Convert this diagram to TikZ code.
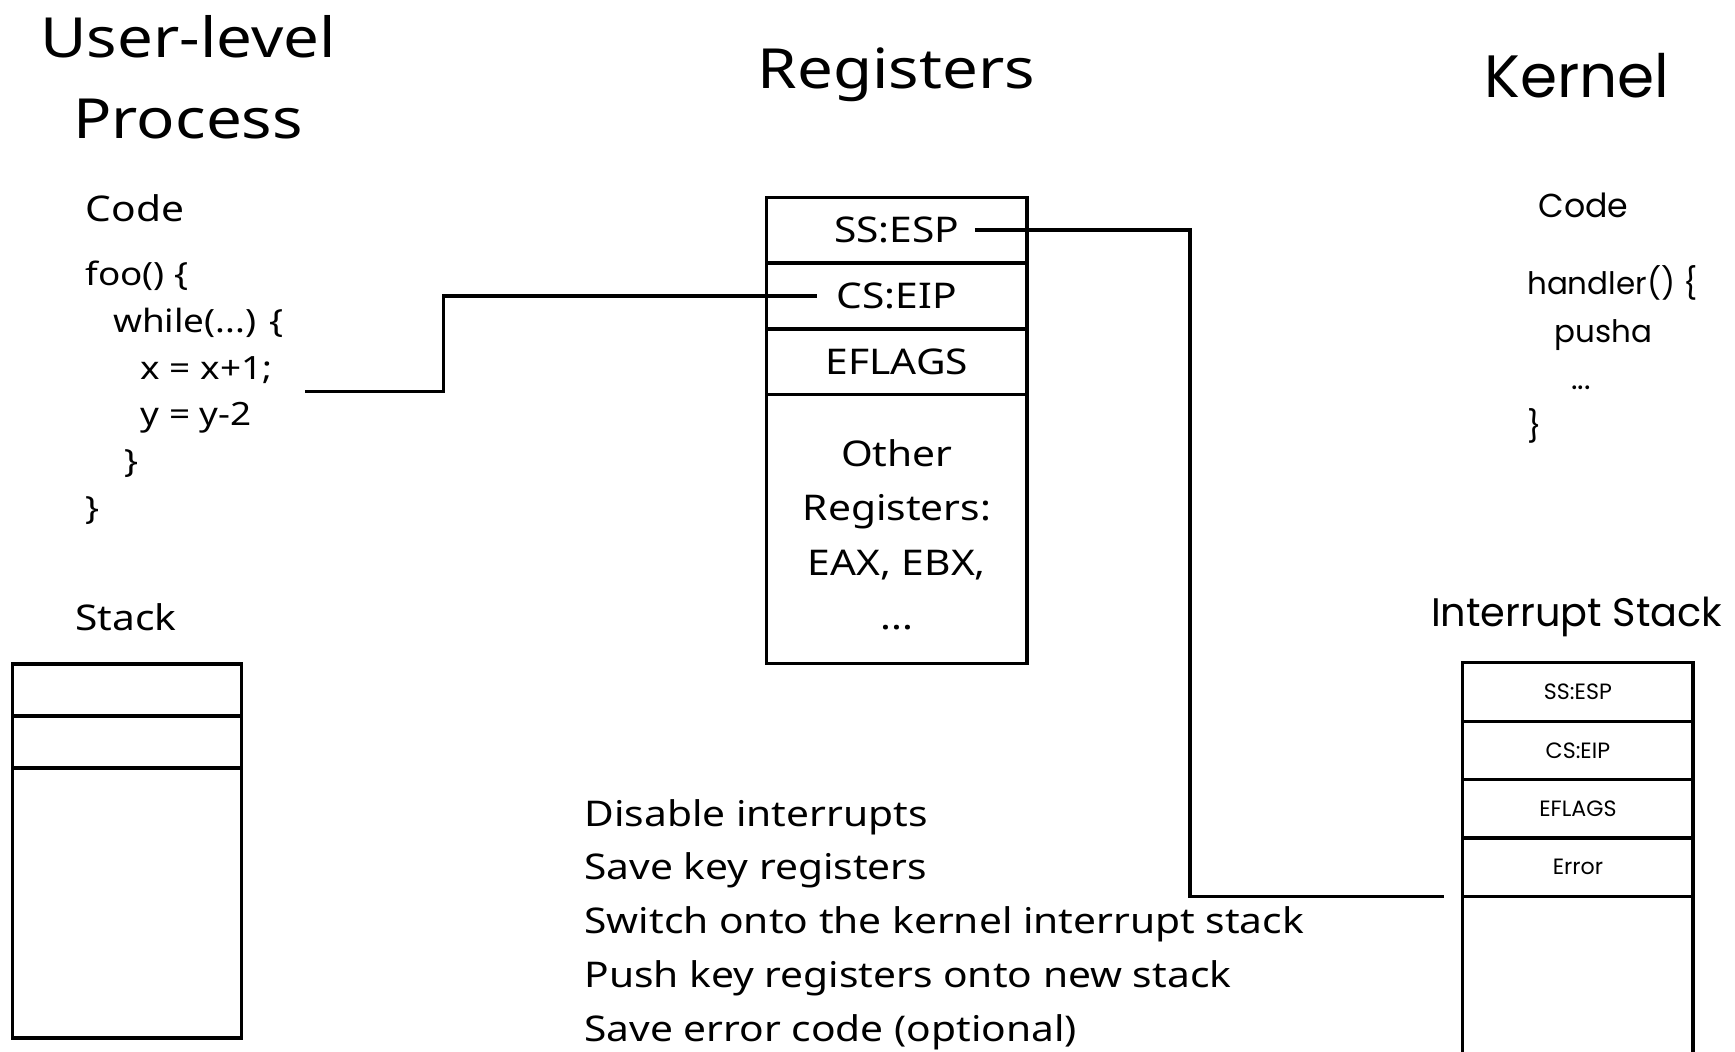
\documentclass[tikz,border=0pt]{standalone}
\usepackage{fontspec}
\setmainfont{Noto Sans}[FakeStretch=1.15]
\newfontfamily\geofont{Poppins}
\usetikzlibrary{positioning}
\newcommand{\fsz}[2]{\fontsize{#1}{#2}\selectfont}

\begin{document}
\begin{tikzpicture}[x=1pt,y=-1pt,
  title/.style={font=\fsz{50}{73}, align=center},
  lbl/.style={font=\fsz{32}{42}},
  klbl/.style={font=\geofont\fsz{30}{42}},
  codetxt/.style={font=\fsz{29}{42.2}, align=left, inner sep=0pt},
  kcodetxt/.style={font=\geofont\fsz{28}{43}, align=left, inner sep=0pt},
  regcell/.style={draw, line width=3pt, minimum width=235pt, minimum height=59.5pt,
    inner sep=0pt, outer sep=0pt, font=\fsz{32}{49}, align=center},
  ucell/.style={draw, line width=3pt, minimum width=207pt, minimum height=47pt,
    inner sep=0pt, outer sep=0pt},
  icell/.style={draw, line width=3pt, minimum width=208pt, minimum height=52.75pt,
    inner sep=0pt, outer sep=0pt, font=\geofont\fsz{20}{24}},
  wire/.style={line width=3pt}]
\useasboundingbox (0,0) rectangle (1568,950);
% titles
\node[title] (tuser) at (170,70) {User-level\\Process};
\node[title] (treg) at (810,68) {Registers};
\node[title, font=\geofont\fsz{54}{73}] (tker) at (1425,68) {Kernel};
% user code
\node[lbl, anchor=west] (ucodehd) at (74,188) {Code};
\node[codetxt, anchor=north west] (ucode) at (77,236) {foo() \{\\
  \hspace*{25pt}while(...) \{\\
  \hspace*{50pt}x = x+1;\\
  \hspace*{50pt}y = y-2\\
  \hspace*{35pt}\}\\
  \}};
% kernel code
\node[klbl, anchor=west] (kcodehd) at (1387,186) {Code};
\node[kcodetxt, anchor=north west] (kcode) at (1380,240) {handler() \{\\
  \hspace*{25pt}pusha\\
  \hspace*{40pt}...\\
  \}};
% registers
\node[regcell] (esp) at (810.5,208) {SS:ESP};
\node[regcell, below=0pt of esp] (eip) {CS:EIP};
\node[regcell, below=0pt of eip] (efl) {EFLAGS};
\node[regcell, below=0pt of efl, minimum height=243pt] (oth) {};
\node[font=\fsz{32}{49}, align=center] (othtxt) at ([yshift=-5pt]oth.center) {Other\\Registers:\\EAX, EBX,\\...};
% user stack
\node[lbl] (ustklbl) at (114,558) {Stack};
\node[ucell] (us1) at (114.5,623.5) {};
\node[ucell, below=0pt of us1] (us2) {};
\node[ucell, below=0pt of us2, minimum height=244pt] (us3) {};
% interrupt stack
\node[klbl, font=\geofont\fsz{36}{42}] (istklbl) at (1425,558) {Interrupt Stack};
\node[icell] (iesp) at (1426,625.4) {SS:ESP};
\node[icell, below=0pt of iesp] (ieip) {CS:EIP};
\node[icell, below=0pt of ieip] (iefl) {EFLAGS};
\node[icell, below=0pt of iefl] (ierr) {Error};
\draw[wire] (ierr.south west) -- ++(0,145);
\draw[wire] (ierr.south east) -- ++(0,145);
% steps
\node[lbl, font=\fsz{32}{48.75}, align=left, anchor=north west, inner sep=0pt] (steps) at (528,722) {Disable interrupts\\
  Save key registers\\
  Switch onto the kernel interrupt stack\\
  Push key registers onto new stack\\
  Save error code (optional)};
% connectors
\coordinate (codetap) at (276,354);
\draw[wire] (codetap) -- ++(125,0) |- ([xshift=-72pt]eip.center);
\draw[wire] ([xshift=70.5pt]esp.center) -- ++(194.5,0) |- ([xshift=-17pt]ierr.south west);
\end{tikzpicture}
\end{document}
